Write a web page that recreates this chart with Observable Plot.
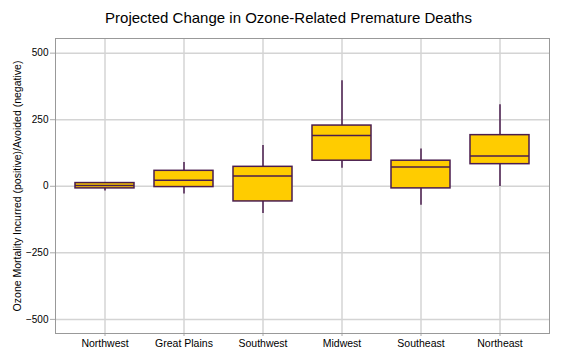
<!DOCTYPE html>
<html><head><meta charset="utf-8">
<script src="https://cdn.jsdelivr.net/npm/d3@7"></script>
<script src="https://cdn.jsdelivr.net/npm/@observablehq/plot@0.6"></script>
<style>
body{margin:0;background:#fff;}
#title{width:569px;height:36px;line-height:36px;text-align:center;font-family:"Liberation Sans",Arial,sans-serif;font-size:15px;color:#000;padding-left:8px;box-sizing:border-box;}
</style></head><body>
<div id="title">Projected Change in Ozone-Related Premature Deaths</div>
<div id="chart"></div>
<script>
const regions = ["Northwest", "Great Plains", "Southwest", "Midwest", "Southeast", "Northeast"];
const whiskerLow = [-18, -29, -102, 68, -71, -1];
const q1 = [-8, -3, -57, 96, -8, 83];
const median = [3, 23, 39, 191, 72, 114];
const q3 = [12, 58, 73, 228, 96, 192];
const whiskerHigh = [14, 89, 153, 396, 140, 306];
const yTicks = [-500, -250, 0, 250, 500];
const yLabel = "Ozone Mortality Incurred (positive)/Avoided (negative)";

const data = regions.map((r, i) => ({region: r, lo: whiskerLow[i], q1: q1[i], med: median[i], q3: q3[i], hi: whiskerHigh[i]}));
const edge = "#4a1d4e";
const gridColor = "#d4d4d4";

const chart = Plot.plot({
  width: 569, height: 327,
  marginTop: 2, marginBottom: 30, marginLeft: 55, marginRight: 20,
  style: {fontFamily: '"Liberation Sans", Arial, sans-serif', fontSize: "10px", color: "#000", background: "#fff"},
  x: {domain: regions, paddingInner: 0.25, paddingOuter: 0.22, label: null},
  y: {domain: [-553, 555], label: null},
  marks: [
    Plot.gridX(regions, {stroke: gridColor, strokeOpacity: 1, strokeWidth: 1.5}),
    Plot.gridY(yTicks, {stroke: gridColor, strokeOpacity: 1, strokeWidth: 1.5}),
    Plot.axisX({tickSize: 3, tickPadding: 3, stroke: "#aaa", fill: "#000", label: null, fontSize: 10.5}),
    Plot.axisY(yTicks, {tickSize: 5, tickPadding: 2, stroke: "#aaa", fill: "#000", label: null, fontSize: 10}),
    Plot.ruleX(data, {x: "region", y1: "lo", y2: "hi", stroke: edge, strokeWidth: 1.5}),
    Plot.barY(data, {x: "region", y1: "q1", y2: "q3", fill: "#FFCC00", stroke: edge, strokeWidth: 1.5}),
    Plot.tickY(data, {x: "region", y: "med", stroke: edge, strokeWidth: 1.5}),
    Plot.frame({stroke: "#999"}),
    Plot.text([yLabel], {text: d => d, frameAnchor: "left", textAnchor: "middle", rotate: -90, dx: -38, fontSize: 10.5, fill: "#000"})
  ]
});
document.getElementById("chart").appendChild(chart);
</script>
</body></html>
